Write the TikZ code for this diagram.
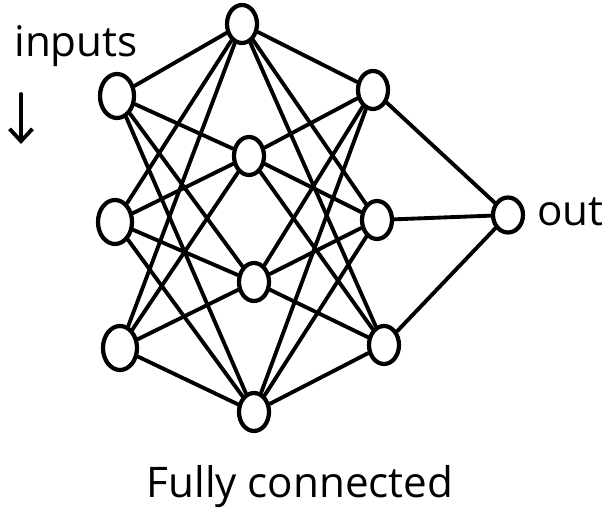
\documentclass[tikz,border=0pt]{standalone}
\usepackage{fontspec}
\setmainfont{Open Sans}
\usetikzlibrary{shapes.geometric,arrows.meta}
\tikzset{
  neuron/.style={draw,ellipse,line width=2.4pt,minimum width=0.6cm,minimum height=0.76cm,inner sep=0pt},
  link/.style={line width=2.2pt,line cap=round},
  lbl/.style={font=\fontsize{24}{26}\selectfont}
}
\begin{document}
\begin{tikzpicture}
  \useasboundingbox (0,0) rectangle (12.22,10.6);
  % input layer
  \node[neuron,minimum width=0.68cm,minimum height=0.88cm] (i1) at (2.34,8.68) {};
  \node[neuron,minimum width=0.68cm,minimum height=0.88cm] (i2) at (2.30,6.16) {};
  \node[neuron,minimum width=0.68cm,minimum height=0.88cm] (i3) at (2.40,3.64) {};
  % first hidden layer
  \node[neuron] (h1) at (4.84,10.12) {};
  \node[neuron] (h2) at (4.98,7.48) {};
  \node[neuron] (h3) at (5.08,4.96) {};
  \node[neuron] (h4) at (5.08,2.36) {};
  % second hidden layer
  \node[neuron] (g1) at (7.46,8.80) {};
  \node[neuron] (g2) at (7.54,6.20) {};
  \node[neuron] (g3) at (7.68,3.70) {};
  % output
  \node[neuron,minimum width=0.6cm,minimum height=0.7cm] (o) at (10.16,6.30) {};
  % every unit feeds every unit of the next layer
  \foreach \a in {i1,i2,i3}
    \foreach \b in {h1,h2,h3,h4}
      \draw[link] (\a) -- (\b);
  \foreach \a in {h1,h2,h3,h4}
    \foreach \b in {g1,g2,g3}
      \draw[link] (\a) -- (\b);
  \foreach \a in {g1,g2,g3}
    \draw[link] (\a) -- (o);
  % labels
  \node[lbl] (inputs) at (1.52,9.68) {inputs};
  \coordinate (arrtop) at (0.42,8.72);
  \coordinate (arrbot) at (0.42,7.72);
  \draw[link,-{Straight Barb[length=7pt,width=13pt]}] (arrtop) -- (arrbot);
  \node[lbl,right,inner sep=0pt] (out) at (10.74,6.36) {out};
  \node[lbl] (title) at (6.0,0.86) {Fully connected};
\end{tikzpicture}
\end{document}
